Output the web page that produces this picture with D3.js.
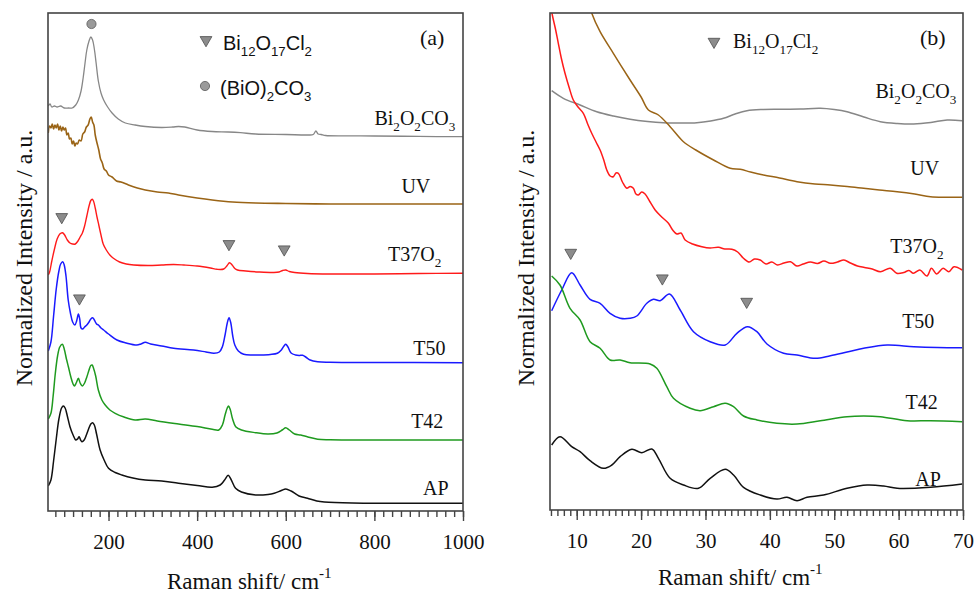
<!DOCTYPE html>
<html><head><meta charset="utf-8">
<script src="https://cdn.jsdelivr.net/npm/d3@7"></script>
<style>body{margin:0;background:#fff}svg{display:block}</style>
</head><body><svg id="c" width="975" height="595"></svg>
<script>
// ---------------- DATA (Raman shift cm^-1, offset normalized intensity a.u.) ----------------
// Panel (a): 63–1000 cm^-1
const aBi2O2CO3 = [[64,405],[68,407],[72,404],[78,405],[84,404],[92,405],[100,403],[110,403],[118,403],[126,406],[132,411],[138,420],[143,434],[147,448],[151,461],[156,470],[160,474],[164,471],[168,462],[172,448],[177,430],[183,418],[189,411],[198,404],[208,398],[222,392],[238,388],[260,386],[283,384.5],[320,383.5],[345,384],[358,384.5],[372,384],[400,381],[434,379.5],[470,379],[498,378.3],[532,377],[600,376.5],[649,376],[662,376.5],[668,380],[673,377],[680,376.5],[690,375.5],[750,375.2],[800,375],[900,374.6],[1000,374.3]];
const aUV = [[64,378],[67,385],[70,383],[73,387],[76,382],[79,386],[82,383],[85,387],[88,381],[91,385],[94,380],[97,384],[100,381],[103,383],[106,376],[109,378],[112,372],[115,373],[118,367],[121,370],[124,365],[127,368],[130,367],[134,371],[138,370],[142,377],[146,379],[150,384],[154,386],[158,392],[161,394],[164,389],[167,386],[170,376],[174,368],[178,361],[182,352],[186,348],[190,342],[195,340],[200,336],[208,334],[218,330],[228,329],[245,326],[265,323],[283,321],[310,319],[335,318],[358,316],[400,313],[434,311],[480,309],[532,308],[600,307.5],[700,307],[800,307],[900,307],[1000,307]];
const aT37O2 = [[64,236],[67,239],[72,250],[78,262],[84,272],[90,277],[96,278.3],[101,276],[107,271],[113,268],[119,267],[125,267],[131,270],[136,274],[141,278],[146,285],[151,295],[156,305],[160,310.5],[163,311.7],[166,310],[170,303],[174,294],[178,286],[183,276],[188,267],[195,261],[203,256],[211,252.7],[225,249],[240,247],[257,246],[290,245.5],[320,246],[347,246.5],[370,246],[400,245],[430,243],[445,241.7],[460,242],[467,245],[473,248.3],[479,246],[485,242.5],[491,241],[510,240],[540,239],[573,238.5],[585,239],[593,240.5],[600,241],[608,239.5],[620,238.5],[649,237.5],[700,237],[800,237],[900,237.5],[1000,237.7]];
const aT50 = [[64,160],[70,169],[76,195],[82,222],[88,240],[92,247],[96.7,249.3],[100,246],[104,235],[109,211],[114,198],[119,189],[124,186],[128,190],[132,197],[135,192],[138,183],[142,182],[146,184],[151,186],[156,189],[160,192],[164,193.3],[168,191],[173,187],[177,186],[183,183],[189,181],[200,177],[219,171],[240,168],[264,166],[273,167],[283,168.7],[295,167],[320,165],[347,162.7],[392,161],[420,159],[438,157.7],[450,159],[457,164.3],[463,176],[468,188],[472,193.3],[476,188],[480,176],[485,166],[493,160],[505,156.7],[525,156],[543,156],[565,156.5],[581,157.7],[590,161],[596,165],[600,166.7],[605,164],[612,158],[622,156],[630,155.5],[638,155.8],[645,154],[655,151],[672,149.3],[700,148.8],[800,148.5],[1000,148.3]];
const aT42 = [[64,92],[70,97.7],[75,115],[80,138],[85,155],[90,164],[95.8,166.7],[100,162],[105,152],[109.4,144.3],[115,134],[120,127],[123,125],[127,128],[132,132.7],[136,128],[141,125],[146,128],[151,134],[156,141],[160,145.5],[163,146],[166,143],[171,135],[177,121],[185,111],[192.5,106],[203,101],[215,97.7],[235,94],[260,91],[283,92],[310,90],[358,87],[400,84.5],[434,81.7],[449,81],[457,86],[463,96],[468,103],[471,105],[475,101],[480,92],[487,84.3],[500,81],[532,78.3],[560,77],[580,78],[592,81],[600,83.3],[608,81],[620,77],[634,76],[650,74],[672,71.7],[700,71.2],[800,71],[1000,71]];
const aAP = [[64,25],[70,31],[76,50],[82,72],[88,92],[94,103],[98,105],[102,103],[107,95],[113,84.3],[120,76],[126,71],[130,72],[133.6,74.3],[137,71],[140,69.3],[145,71],[150,76],[155,82],[160,87],[164,88.3],[168,86],[173,77],[181,61],[190,51],[200,42.7],[215,38.5],[230,36],[255,33],[283,31],[320,30],[358,27.7],[400,25.5],[434,23.7],[452,26],[462,31],[470,35.7],[476,32],[486.7,22.7],[500,19],[532,16],[560,16.5],[574,17.7],[590,20.5],[600,22],[612,20],[630,15],[649,12.7],[670,10],[687,9],[750,8],[1000,7.7]];
const aTriangles = [[94.4,294],[471.8,267],[596.5,261.7],[134.3,212.7]];
const aCircles = [[161.5,487]];
const aTicks = [200,400,600,800,1000];

// Panel (b): 6–70 cm^-1
const bBi2O2CO3 = [[6.11,419.3],[7.92,411.7],[10.52,405],[13.11,398.3],[15.7,394],[18.29,390.7],[21,388.5],[23.47,387.3],[26,387],[28.66,387.3],[30.8,389],[32.8,391.7],[34.6,396],[36.44,399.3],[39,400.5],[41.62,400.7],[44.7,401],[47.84,401.7],[50,400.5],[51.99,398.3],[54.6,393],[57.17,388.3],[59.8,386.5],[62.35,386],[65,387.5],[67.54,390],[69.88,389.3]];
const bUV = [[11.8,510],[12.34,496.7],[13.63,478.3],[15.69,456.7],[18.29,430],[20,413],[21.14,400],[22.69,395],[24.51,383.3],[26.58,368.3],[28.5,360],[31.25,350],[33.84,341.7],[35.4,340.7],[37,338],[39.02,335],[41.5,332],[44.22,328.3],[47,326],[49.4,325],[52,323.5],[54.57,321.7],[57,320],[59.77,318.3],[62.5,316],[64.95,313.3],[67.5,312.8],[69.88,312.7]];
const bT37O2 = [[5.8,510],[6.21,495],[6.7,481],[7.14,466.7],[7.6,452],[8.18,436.7],[8.8,423],[9.47,410],[10.2,403],[11.03,396.7],[11.7,386],[12.33,376.7],[13,368],[13.63,360],[14.2,350],[14.67,340],[15.2,334],[15.69,333.3],[16.1,337],[16.47,336.7],[17.1,328],[17.78,321.7],[18.3,323.5],[18.8,321.7],[19.2,316],[19.58,315],[20.1,318],[20.62,316],[21.4,308],[22.18,300],[23.2,293],[24.25,286.7],[24.9,280],[25.55,276],[26.2,277],[26.84,270],[28,266],[29.44,263.3],[30.7,262],[32.02,262.7],[33,261],[34.1,260.7],[35,258],[35.9,251.7],[36.8,248],[37.6,251],[38.5,250],[39.4,246],[40.3,248],[41.2,245],[42.2,247],[43.2,248.3],[44.2,244],[45.2,246],[46.3,248],[47.4,246.5],[48.4,249],[49.4,246.7],[50.5,248],[51.5,250],[52.5,247],[53.6,244],[54.7,242.5],[55.9,241],[57.17,238.3],[58.7,241.7],[59.7,236.7],[60.8,237.5],[61.6,239.5],[62.3,236.7],[63.3,240],[64.4,234],[65.1,241.7],[65.9,236],[66.9,241.7],[67.8,238.3],[68.6,243.3],[69.88,240]];
const bT50 = [[6.11,199.3],[7.67,220],[9.22,237.3],[10.52,225],[12.07,210.7],[13.63,206.7],[15.18,196.7],[16.74,191.7],[18.29,191.7],[19.33,194],[20.89,206.7],[21.92,210.7],[22.96,209.3],[24.4,216],[26.07,200],[28.14,178.3],[30.73,168.3],[33.07,165],[34.88,176.7],[36.53,183.3],[37.99,178.3],[39.55,166],[42.13,156.7],[44.22,155],[47.06,151.7],[49.4,154.3],[52,158],[54.57,161.7],[58.21,165],[62.35,163.3],[66,162.5],[69.88,162.3]];
const bT42 = [[6.11,234],[7.4,225],[8.96,201.7],[10.52,190],[12.07,168.3],[13.63,161.7],[15.18,150],[16.74,150],[18.29,147.3],[21.4,146],[22.44,141.7],[23.99,123.3],[25.03,111.7],[27.62,101.7],[29.18,99.3],[31.25,103.3],[33.07,106.7],[34.36,103.3],[35.91,94],[38,90],[41.1,86.7],[44.22,86],[47.84,89.3],[51.99,93.3],[54.57,94],[57.17,93.3],[61.32,89.3],[64.95,89.3],[69.88,88.3]];
const bAP = [[6.11,65],[7.4,73.3],[9.22,63.3],[10.52,58.3],[12.07,49.3],[14.14,41.7],[15.45,45],[16.74,53.3],[18.56,60.7],[20.11,57.3],[21.67,61],[22.69,51.7],[24.51,31.7],[26.58,25],[28.91,21.7],[30.73,31.7],[33.07,40.7],[34.36,35],[35.91,22.7],[38.51,15],[41.1,11],[42.66,12.7],[44.22,9.3],[45.77,12.7],[48.35,15],[51.99,21.7],[55.1,25],[57.68,24],[59.77,21.7],[64.95,22.7],[69.88,26]];
const bTriangles = [[9.07,257.3],[23.3,231.7],[36.4,208.3]];
const bTicks = [10,20,30,40,50,60,70];

const seriesNames = ["Bi2O2CO3","UV","T37O2","T50","T42","AP"];
const seriesColors = ["#878787","#9a6416","#ff1a1a","#1a1aff","#1f9a1f","#111111"];

// ---------------- DRAWING ----------------
const svg = d3.select("#c");
const serif = "'Liberation Serif','Times New Roman',serif";
const sans = "'Liberation Sans',Arial,sans-serif";

// rich text: parts = [[text, 'sub'|'sup'|null], ...]
function rich(g, x, y, parts, size, family, anchor) {
  const t = g.append("text").attr("x", x).attr("y", y)
    .attr("font-family", family).attr("font-size", size).attr("fill", "#111")
    .attr("text-anchor", anchor || "start");
  let shift = 0;
  parts.forEach(([s, k]) => {
    const target = k === "sub" ? size * 0.3 : k === "sup" ? -size * 0.5 : 0;
    t.append("tspan").attr("dy", target - shift)
      .attr("font-size", k ? size * 0.66 : size).text(s);
    shift = target;
  });
  return t;
}
const L = {
  Bi2O2CO3: [["Bi"],["2","sub"],["O"],["2","sub"],["CO"],["3","sub"]],
  UV: [["UV"]],
  T37O2: [["T37O"],["2","sub"]],
  T50: [["T50"]], T42: [["T42"]], AP: [["AP"]],
  Bi12: [["Bi"],["12","sub"],["O"],["17","sub"],["Cl"],["2","sub"]],
  BiO: [["(BiO)"],["2","sub"],["CO"],["3","sub"]],
  xlab: [["Raman shift/ cm"],["-1","sup"]]
};

const triPath = d3.symbol().type(d3.symbolTriangle).size(60)();

function panel(cfg) {
  const x = d3.scaleLinear().domain(cfg.xDomain).range([cfg.left, cfg.right]);
  const y = d3.scaleLinear().domain(cfg.yDomain).range([cfg.bottom, cfg.top]);
  const g = svg.append("g");
  const cid = "clip" + cfg.id;
  svg.append("defs").append("clipPath").attr("id", cid).append("rect")
    .attr("x", cfg.left).attr("y", cfg.top).attr("width", cfg.right - cfg.left).attr("height", cfg.bottom - cfg.top);

  const line = d3.line().x(d => x(d[0])).y(d => y(d[1])).curve(d3.curveCatmullRom.alpha(0.5));
  const lg = g.append("g").attr("clip-path", `url(#${cid})`);
  cfg.series.forEach((s, i) => {
    lg.append("path").datum(s).attr("fill", "none").attr("stroke", seriesColors[i])
      .attr("stroke-width", cfg.sw[i]).attr("stroke-linejoin", "round").attr("d", line);
  });

  // markers
  g.selectAll(".tri").data(cfg.tri).join("path")
    .attr("transform", d => `translate(${x(d[0])},${y(d[1])}) rotate(180)`)
    .attr("d", triPath).attr("fill", "#8c8c8c").attr("stroke", "#4d4d4d").attr("stroke-width", 0.8);
  g.selectAll(".cir").data(cfg.cir).join("circle")
    .attr("cx", d => x(d[0])).attr("cy", d => y(d[1])).attr("r", 4.6)
    .attr("fill", "#9a9a9a").attr("stroke", "#5a5a5a").attr("stroke-width", 0.8);

  // frame
  g.append("rect").attr("x", cfg.left).attr("y", cfg.top)
    .attr("width", cfg.right - cfg.left).attr("height", cfg.bottom - cfg.top)
    .attr("fill", "none").attr("stroke", "#444").attr("stroke-width", 1.6);

  // axes
  const minor = g.append("g").attr("transform", `translate(0,${cfg.bottom})`)
    .call(d3.axisBottom(x).tickValues(cfg.minor).tickSize(6).tickFormat(""));
  const major = g.append("g").attr("transform", `translate(0,${cfg.bottom})`)
    .call(d3.axisBottom(x).tickValues(cfg.ticks).tickSize(10).tickPadding(13).tickFormat(d3.format("d")));
  [minor, major].forEach(a => {
    a.select(".domain").remove();
    a.selectAll("line").attr("stroke", "#444").attr("stroke-width", 1.4);
    a.selectAll("text").attr("font-family", serif).attr("font-size", 21).attr("fill", "#111");
  });

  // series labels
  cfg.labels.forEach((lb, i) => rich(g, x(lb[0]), y(lb[1]), L[seriesNames[i]], 20, serif));

  // y title
  g.append("text").attr("transform", `translate(${cfg.left - 16},258) rotate(-90)`)
    .attr("text-anchor", "middle").attr("font-family", serif).attr("font-size", 24).attr("fill", "#111")
    .text("Normalized Intensity / a.u.");
  // x title
  rich(g, cfg.xtitle[0], cfg.xtitle[1], L.xlab, 23, serif);
  // panel tag
  g.append("text").attr("x", cfg.right - 43).attr("y", 45).attr("font-family", serif)
    .attr("font-size", 22).attr("fill", "#111").text(cfg.tag);
  return {x, y, g};
}

const pa = panel({
  id: "a", left: 48, right: 463, top: 13, bottom: 511, xDomain: [63.4, 1000], yDomain: [0, 498],
  series: [aBi2O2CO3, aUV, aT37O2, aT50, aT42, aAP], sw: [1.3, 1.6, 1.4, 1.5, 1.5, 1.5],
  tri: aTriangles, cir: aCircles, ticks: aTicks, minor: d3.range(80, 1001, 20),
  labels: [[800,386],[861,318],[831,250],[888,156],[883,83],[910,16]],
  xtitle: [167, 589], tag: "(a)"
});
// legend (a)
pa.g.append("path").attr("transform", "translate(206,40) rotate(180)").attr("d", triPath)
  .attr("fill", "#8c8c8c").attr("stroke", "#4d4d4d").attr("stroke-width", 0.8);
rich(pa.g, 223, 50, L.Bi12, 20, sans);
pa.g.append("circle").attr("cx", 205).attr("cy", 86).attr("r", 4.6)
  .attr("fill", "#9a9a9a").attr("stroke", "#5a5a5a").attr("stroke-width", 0.8);
rich(pa.g, 220, 95, L.BiO, 20, sans);

const pb = panel({
  id: "b", left: 550, right: 963, top: 13, bottom: 510, xDomain: [5.85, 70], yDomain: [0, 497],
  series: [bBi2O2CO3, bUV, bT37O2, bT50, bT42, bAP], sw: [1.5, 1.5, 1.5, 1.5, 1.5, 1.5],
  tri: bTriangles, cir: [], ticks: bTicks, minor: d3.range(6, 71, 1),
  labels: [[56.4,411.7],[61.8,335],[58.7,256.7],[60.55,182.3],[61.06,100.7],[62.6,24]],
  xtitle: [658, 585], tag: "(b)"
});
pb.g.append("path").attr("transform", "translate(714,41.7) rotate(180)").attr("d", triPath)
  .attr("fill", "#8c8c8c").attr("stroke", "#4d4d4d").attr("stroke-width", 0.8);
rich(pb.g, 733, 48.3, L.Bi12, 20, serif);
</script></body></html>
